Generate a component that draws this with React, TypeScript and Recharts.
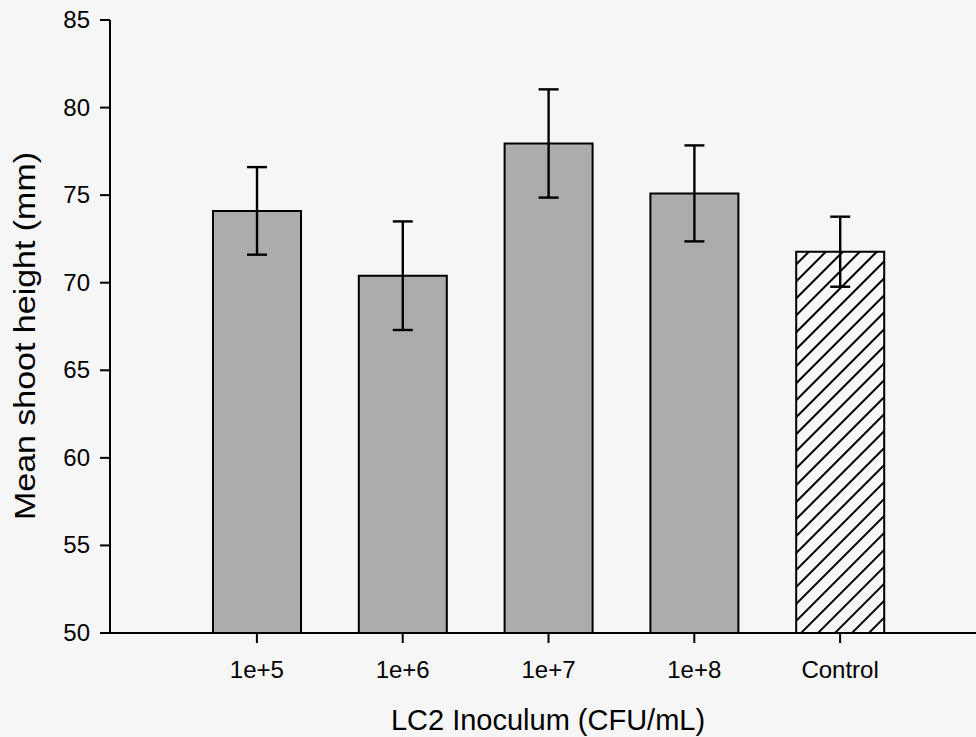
import React from 'react';
import { BarChart, Bar, XAxis, YAxis, ErrorBar, Cell } from 'recharts';

const categories = ['1e+5', '1e+6', '1e+7', '1e+8', 'Control'];
const meanHeights = [74.1, 70.4, 77.95, 75.1, 71.77];
const stdErrors = [2.5, 3.1, 3.09, 2.74, 2.0];
const yTicks = [50, 55, 60, 65, 70, 75, 80, 85];

const data = categories.map((c, i) => ({ name: c, value: meanHeights[i], err: stdErrors[i] }));

const FONT = '"Liberation Sans", Arial, Helvetica, sans-serif';

const XTitle = () => (
  <text x={548} y={730} textAnchor="middle" fontFamily={FONT} fontSize={29} fill="#000">
    LC2 Inoculum (CFU/mL)
  </text>
);

const YTitle = () => (
  <text
    x={35}
    y={336}
    transform="rotate(-90, 35, 336)"
    textAnchor="middle"
    fontFamily={FONT}
    fontSize={30}
    fill="#000"
    textLength={368}
    lengthAdjust="spacingAndGlyphs"
  >
    Mean shoot height (mm)
  </text>
);

const XTick = (props: any) => {
  const { x, y, payload } = props;
  return (
    <text x={x} y={y} dy={17} textAnchor="middle" fontFamily={FONT} fontSize={24} fill="#000">
      {payload.value}
    </text>
  );
};

const YTick = (props: any) => {
  const { x, y, payload } = props;
  return (
    <text x={x} y={y} dy={8} textAnchor="end" fontFamily={FONT} fontSize={24} fill="#000">
      {payload.value}
    </text>
  );
};

export default function App() {
  return (
    <div style={{ position: 'absolute', left: 0, top: 0, width: 976, height: 737, background: '#f6f6f6' }}>
      <BarChart
        width={976}
        height={737}
        data={data}
        margin={{ top: 20, right: 0, bottom: 0, left: 0 }}
        barCategoryGap={0}
      >
        <defs>
          <pattern id="hatch" patternUnits="userSpaceOnUse" width="12" height="12" patternTransform="rotate(45)">
            <rect x="0" y="0" width="12" height="12" fill="#f7f7f7" />
            <line x1="6" y1="0" x2="6" y2="12" stroke="#000" strokeWidth="2" />
          </pattern>
        </defs>
        <XAxis
          dataKey="name"
          height={104}
          padding={{ left: 74, right: 63 }}
          stroke="#000"
          strokeWidth={2}
          axisLine={{ stroke: '#000', strokeWidth: 2 }}
          tickLine={{ stroke: '#000', strokeWidth: 2 }}
          tickSize={10}
          tickMargin={18}
          tick={<XTick />}
          interval={0}
          label={<XTitle />}
        />
        <YAxis
          width={110}
          domain={[50, 85]}
          ticks={yTicks}
          interval={0}
          stroke="#000"
          strokeWidth={2}
          axisLine={{ stroke: '#000', strokeWidth: 2 }}
          tickLine={{ stroke: '#000', strokeWidth: 2 }}
          tickSize={10}
          tickMargin={10}
          tick={<YTick />}
          label={<YTitle />}
        />
        <Bar dataKey="value" barSize={88} stroke="#000" strokeWidth={2} isAnimationActive={false}>
          {data.map((d) => (
            <Cell key={d.name} fill={d.name === 'Control' ? 'url(#hatch)' : '#acacac'} />
          ))}
          <ErrorBar dataKey="err" width={10} stroke="#000" strokeWidth={2.4} direction="y" />
        </Bar>
      </BarChart>
    </div>
  );
}
